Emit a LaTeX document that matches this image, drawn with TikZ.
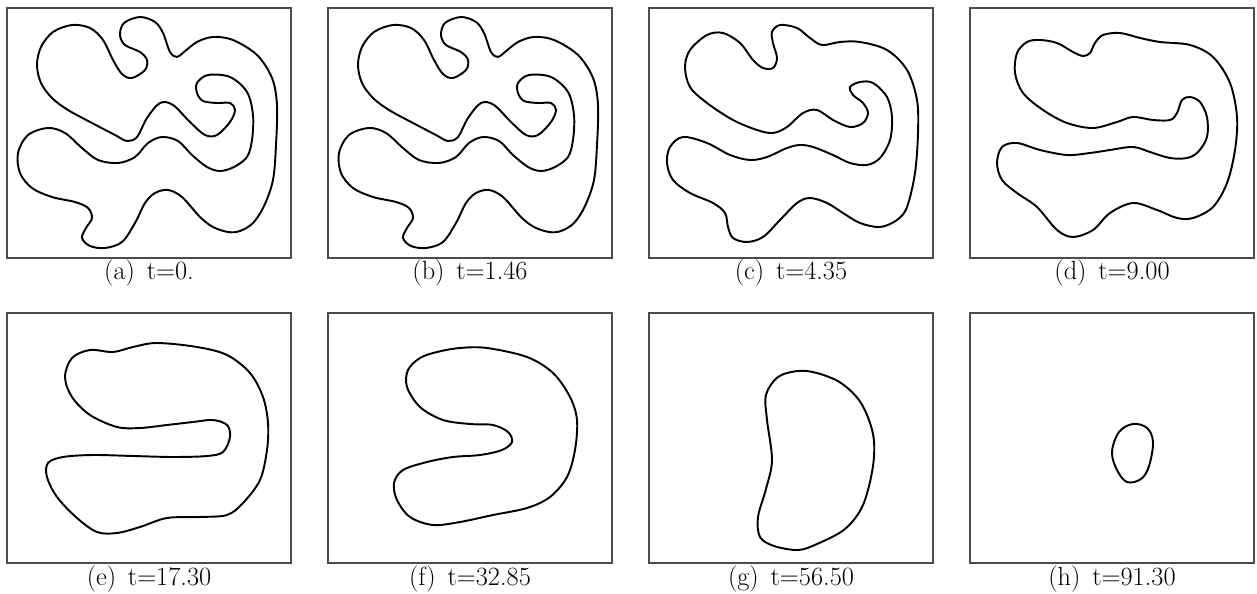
\documentclass[tikz,border=0pt]{standalone}
\usepackage{tikz}
\usetikzlibrary{positioning}
\tikzset{
  panel/.style={draw=black!70, line width=0.6pt},
  front/.style={draw=black, line width=1.1pt, line join=round},
  tlabel/.style={font=\fontsize{15}{17}\selectfont, inner sep=0pt, anchor=base},
}
% interface at t=0 (also used, shifted, for t=1.46)
\newcommand{\frontA}{%
  \draw[front] plot[smooth cycle, tension=0.55] coordinates {
    (72,25) (90,28) (103,40) (113,60) (122,74) (132,78) (145,70) (147,60)
    (140,52) (125,45) (120,35) (124,23) (140,17) (155,22) (163,33) (170,52)
    (177,57) (184,52) (197,42) (213,37) (233,40) (257,55) (272,78) (277,105)
    (276,145) (273,180) (264,206) (253,223) (240,231) (228,232) (213,227)
    (200,217) (182,197) (168,190) (155,193) (145,203) (135,223) (122,242)
    (105,248) (90,246) (82,238) (86,228) (92,218) (88,208) (75,202) (52,197)
    (32,188) (20,173) (18,153) (28,135) (48,128) (65,133) (82,148) (98,160)
    (118,163) (135,157) (148,143) (162,137) (178,141) (192,155) (207,167)
    (220,171) (234,167) (247,157) (252,140) (253,115) (247,92) (230,77)
    (208,75) (197,83) (197,93) (203,101) (217,103) (230,103) (235,110)
    (230,122) (217,135) (205,135) (190,122) (173,105) (160,103) (147,118)
    (137,137) (127,141) (115,135) (92,123) (68,110) (52,98) (41,83) (37,65)
    (41,47) (53,32)};%
}

\begin{document}
\begin{tikzpicture}[x=0.02cm, y=-0.02cm]
\useasboundingbox (0,0) rectangle (1257,594);

% frames and captions
\foreach \x/\y/\l/\t in {7/8/a/0., 328/8/b/1.46, 649/8/c/4.35, 970/8/d/9.00,
    7/313/e/17.30, 328/313/f/32.85, 649/313/g/56.50, 970/313/h/91.30} {
  \draw[panel] (\x,\y) rectangle ++(284,250);
  \node[tlabel] (cap\l) at (\x+142,\y+272) {(\l)\hspace{0.45em}t=\t};
}

% (a) and (b)
\frontA
\begin{scope}[shift={(321,0)}]
  \frontA
\end{scope}

% (c)
\draw[front] plot[smooth cycle, tension=0.55] coordinates {
  (707,35) (690,50) (685,67) (690,87) (707,103) (733,120) (757,130) (773,133)
  (787,127) (803,113) (817,110) (833,120) (850,127) (863,123) (868,113)
  (863,103) (853,95) (850,87) (860,82) (873,83) (887,97) (892,117) (890,140)
  (880,158) (867,165) (850,163) (833,155) (813,147) (800,145) (787,148)
  (767,157) (750,160) (730,155) (707,143) (683,137) (670,147) (667,163)
  (673,180) (690,193) (713,203) (725,213) (728,227) (733,238) (747,242)
  (763,237) (780,220) (797,203) (810,198) (827,203) (843,213) (860,223)
  (880,227) (897,220) (907,207) (915,173) (918,133) (917,100) (907,70)
  (887,50) (860,42) (840,42) (822,45) (810,38) (797,28) (780,25) (772,32)
  (773,43) (777,58) (773,68) (763,68) (753,60) (740,43) (723,33)};

% (d)
\draw[front] plot[smooth cycle, tension=0.55] coordinates {
  (1027,42) (1017,53) (1015,73) (1023,93) (1043,110) (1067,123) (1093,128)
  (1117,122) (1133,117) (1153,120) (1170,120) (1177,113) (1182,100)
  (1190,97) (1200,102) (1207,117) (1207,137) (1198,152) (1187,158)
  (1170,158) (1150,152) (1133,147) (1110,150) (1090,153) (1067,155)
  (1040,150) (1017,143) (1002,147) (997,163) (1002,180) (1017,193)
  (1037,207) (1057,230) (1073,237) (1093,230) (1110,213) (1133,203)
  (1157,210) (1177,218) (1193,218) (1213,207) (1227,183) (1235,150)
  (1237,117) (1230,83) (1213,57) (1190,45) (1160,42) (1140,38) (1120,33)
  (1103,35) (1095,43) (1090,53) (1083,56) (1073,52) (1057,43) (1040,40)};

% (e)
\draw[front] plot[smooth cycle, tension=0.55] coordinates {
  (90,350) (72,358) (65,377) (72,397) (90,415) (117,427) (140,428) (167,425)
  (193,422) (213,420) (227,425) (230,437) (223,452) (207,456) (173,457)
  (133,456) (93,455) (63,457) (48,463) (47,477) (57,497) (77,518) (97,532)
  (117,533) (140,527) (167,518) (200,517) (227,515) (243,503) (260,480)
  (267,450) (268,423) (263,397) (250,373) (227,355) (197,347) (157,343)
  (133,347) (113,352)};

% (f)
\draw[front] plot[smooth cycle, tension=0.55] coordinates {
  (420,358) (408,370) (407,387) (420,407) (443,420) (470,424) (493,425)
  (508,432) (512,442) (502,450) (480,455) (453,457) (427,462) (403,470)
  (394,483) (397,500) (410,517) (433,525) (460,522) (493,515) (527,508)
  (550,497) (567,477) (575,450) (577,420) (570,397) (553,373) (527,357)
  (487,348) (460,348) (437,352)};

% (g)
\draw[front] plot[smooth cycle, tension=0.55] coordinates {
  (798,371) (778,377) (766,395) (767,420) (772,460) (766,489)
  (758,517) (760,537) (774,546) (798,550) (817,544) (845,529) (863,505)
  (873,466) (873,434) (861,403) (841,383) (817,373)};

% (h)
\draw[front] plot[smooth cycle, tension=0.6] coordinates {
  (1133,424) (1119,432) (1112,452) (1117,470) (1127,482) (1141,479)
  (1149,466) (1153,442) (1147,428)};

\end{tikzpicture}
\end{document}
